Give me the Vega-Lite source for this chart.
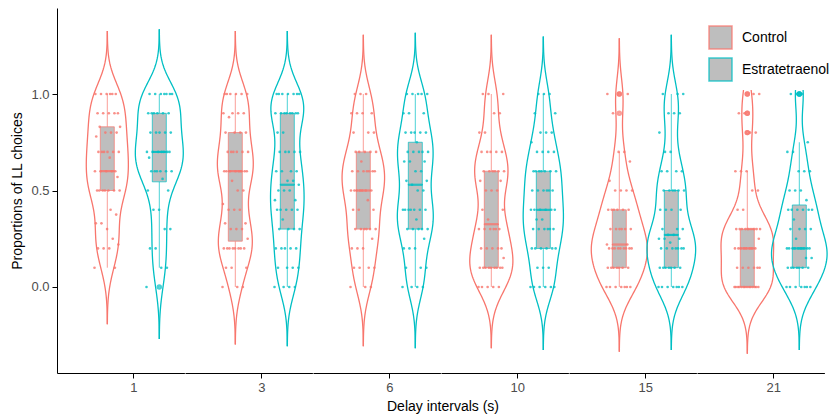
{
"$schema": "https://vega.github.io/schema/vega-lite/v6.json",
"background": "white",
"padding": {"left": 10, "top": 8, "right": 0, "bottom": 0},
"bounds": "flush",
"config": {
  "view": {"stroke": null},
  "font": "Liberation Sans",
  "axis": {"grid": false, "domainColor": "black", "tickColor": "black", "domainWidth": 1, "tickWidth": 1},
  "axisY": {"tickSize": 5, "labelPadding": 3, "labelFontSize": 13, "labelColor": "#4d4d4d", "titleFontSize": 14, "titleFontWeight": "normal", "titleColor": "black", "titlePadding": 6},
  "legend": {"symbolFillColor": "#bebebe"}
},
"data": {"values": [
{"d":1,"g":"Control","v":0.1,"i":0},{"d":1,"g":"Control","v":0.1,"i":1},{"d":1,"g":"Control","v":0.2,"i":2},{"d":1,"g":"Control","v":0.2,"i":3},{"d":1,"g":"Control","v":0.2,"i":4},{"d":1,"g":"Control","v":0.22,"i":5},{"d":1,"g":"Control","v":0.25,"i":6},{"d":1,"g":"Control","v":0.3,"i":7},{"d":1,"g":"Control","v":0.33,"i":8},{"d":1,"g":"Control","v":0.33,"i":9},{"d":1,"g":"Control","v":0.375,"i":10},{"d":1,"g":"Control","v":0.4,"i":11},{"d":1,"g":"Control","v":0.5,"i":12},{"d":1,"g":"Control","v":0.5,"i":13},{"d":1,"g":"Control","v":0.5,"i":14},{"d":1,"g":"Control","v":0.5,"i":15},{"d":1,"g":"Control","v":0.5,"i":16},{"d":1,"g":"Control","v":0.5,"i":17},{"d":1,"g":"Control","v":0.5,"i":18},{"d":1,"g":"Control","v":0.57,"i":19},{"d":1,"g":"Control","v":0.6,"i":20},{"d":1,"g":"Control","v":0.6,"i":21},{"d":1,"g":"Control","v":0.6,"i":22},{"d":1,"g":"Control","v":0.6,"i":23},{"d":1,"g":"Control","v":0.6,"i":24},{"d":1,"g":"Control","v":0.67,"i":25},{"d":1,"g":"Control","v":0.7,"i":26},{"d":1,"g":"Control","v":0.7,"i":27},{"d":1,"g":"Control","v":0.7,"i":28},{"d":1,"g":"Control","v":0.7,"i":29},{"d":1,"g":"Control","v":0.7,"i":30},{"d":1,"g":"Control","v":0.7,"i":31},{"d":1,"g":"Control","v":0.78,"i":32},{"d":1,"g":"Control","v":0.8,"i":33},{"d":1,"g":"Control","v":0.8,"i":34},{"d":1,"g":"Control","v":0.8,"i":35},{"d":1,"g":"Control","v":0.83,"i":36},{"d":1,"g":"Control","v":0.83,"i":37},{"d":1,"g":"Control","v":0.9,"i":38},{"d":1,"g":"Control","v":0.9,"i":39},{"d":1,"g":"Control","v":0.9,"i":40},{"d":1,"g":"Control","v":0.9,"i":41},{"d":1,"g":"Control","v":0.9,"i":42},{"d":1,"g":"Control","v":1,"i":43},{"d":1,"g":"Control","v":1,"i":44},{"d":1,"g":"Control","v":1,"i":45},{"d":1,"g":"Control","v":1,"i":46},{"d":1,"g":"Control","v":1,"i":47},{"d":1,"g":"Control","v":1,"i":48},
{"d":1,"g":"Estratetraenol","v":0,"i":0},{"d":1,"g":"Estratetraenol","v":0.1,"i":1},{"d":1,"g":"Estratetraenol","v":0.1,"i":2},{"d":1,"g":"Estratetraenol","v":0.2,"i":3},{"d":1,"g":"Estratetraenol","v":0.2,"i":4},{"d":1,"g":"Estratetraenol","v":0.3,"i":5},{"d":1,"g":"Estratetraenol","v":0.3,"i":6},{"d":1,"g":"Estratetraenol","v":0.4,"i":7},{"d":1,"g":"Estratetraenol","v":0.4,"i":8},{"d":1,"g":"Estratetraenol","v":0.5,"i":9},{"d":1,"g":"Estratetraenol","v":0.5,"i":10},{"d":1,"g":"Estratetraenol","v":0.56,"i":11},{"d":1,"g":"Estratetraenol","v":0.6,"i":12},{"d":1,"g":"Estratetraenol","v":0.6,"i":13},{"d":1,"g":"Estratetraenol","v":0.6,"i":14},{"d":1,"g":"Estratetraenol","v":0.6,"i":15},{"d":1,"g":"Estratetraenol","v":0.6,"i":16},{"d":1,"g":"Estratetraenol","v":0.6,"i":17},{"d":1,"g":"Estratetraenol","v":0.67,"i":18},{"d":1,"g":"Estratetraenol","v":0.7,"i":19},{"d":1,"g":"Estratetraenol","v":0.7,"i":20},{"d":1,"g":"Estratetraenol","v":0.7,"i":21},{"d":1,"g":"Estratetraenol","v":0.7,"i":22},{"d":1,"g":"Estratetraenol","v":0.7,"i":23},{"d":1,"g":"Estratetraenol","v":0.7,"i":24},{"d":1,"g":"Estratetraenol","v":0.7,"i":25},{"d":1,"g":"Estratetraenol","v":0.8,"i":26},{"d":1,"g":"Estratetraenol","v":0.8,"i":27},{"d":1,"g":"Estratetraenol","v":0.8,"i":28},{"d":1,"g":"Estratetraenol","v":0.8,"i":29},{"d":1,"g":"Estratetraenol","v":0.8,"i":30},{"d":1,"g":"Estratetraenol","v":0.9,"i":31},{"d":1,"g":"Estratetraenol","v":0.9,"i":32},{"d":1,"g":"Estratetraenol","v":0.9,"i":33},{"d":1,"g":"Estratetraenol","v":0.9,"i":34},{"d":1,"g":"Estratetraenol","v":0.9,"i":35},{"d":1,"g":"Estratetraenol","v":0.9,"i":36},{"d":1,"g":"Estratetraenol","v":1,"i":37},{"d":1,"g":"Estratetraenol","v":1,"i":38},{"d":1,"g":"Estratetraenol","v":1,"i":39},{"d":1,"g":"Estratetraenol","v":1,"i":40},{"d":1,"g":"Estratetraenol","v":1,"i":41},{"d":1,"g":"Estratetraenol","v":1,"i":42},{"d":1,"g":"Estratetraenol","v":1,"i":43},
{"d":3,"g":"Control","v":0,"i":0},{"d":3,"g":"Control","v":0,"i":1},{"d":3,"g":"Control","v":0,"i":2},{"d":3,"g":"Control","v":0.1,"i":3},{"d":3,"g":"Control","v":0.1,"i":4},{"d":3,"g":"Control","v":0.1,"i":5},{"d":3,"g":"Control","v":0.2,"i":6},{"d":3,"g":"Control","v":0.2,"i":7},{"d":3,"g":"Control","v":0.2,"i":8},{"d":3,"g":"Control","v":0.2,"i":9},{"d":3,"g":"Control","v":0.2,"i":10},{"d":3,"g":"Control","v":0.2,"i":11},{"d":3,"g":"Control","v":0.2,"i":12},{"d":3,"g":"Control","v":0.2,"i":13},{"d":3,"g":"Control","v":0.25,"i":14},{"d":3,"g":"Control","v":0.3,"i":15},{"d":3,"g":"Control","v":0.3,"i":16},{"d":3,"g":"Control","v":0.3,"i":17},{"d":3,"g":"Control","v":0.33,"i":18},{"d":3,"g":"Control","v":0.33,"i":19},{"d":3,"g":"Control","v":0.4,"i":20},{"d":3,"g":"Control","v":0.4,"i":21},{"d":3,"g":"Control","v":0.4,"i":22},{"d":3,"g":"Control","v":0.43,"i":23},{"d":3,"g":"Control","v":0.5,"i":24},{"d":3,"g":"Control","v":0.5,"i":25},{"d":3,"g":"Control","v":0.55,"i":26},{"d":3,"g":"Control","v":0.6,"i":27},{"d":3,"g":"Control","v":0.6,"i":28},{"d":3,"g":"Control","v":0.6,"i":29},{"d":3,"g":"Control","v":0.6,"i":30},{"d":3,"g":"Control","v":0.6,"i":31},{"d":3,"g":"Control","v":0.6,"i":32},{"d":3,"g":"Control","v":0.6,"i":33},{"d":3,"g":"Control","v":0.6,"i":34},{"d":3,"g":"Control","v":0.7,"i":35},{"d":3,"g":"Control","v":0.7,"i":36},{"d":3,"g":"Control","v":0.7,"i":37},{"d":3,"g":"Control","v":0.7,"i":38},{"d":3,"g":"Control","v":0.7,"i":39},{"d":3,"g":"Control","v":0.7,"i":40},{"d":3,"g":"Control","v":0.8,"i":41},{"d":3,"g":"Control","v":0.8,"i":42},{"d":3,"g":"Control","v":0.8,"i":43},{"d":3,"g":"Control","v":0.8,"i":44},{"d":3,"g":"Control","v":0.88,"i":45},{"d":3,"g":"Control","v":0.9,"i":46},{"d":3,"g":"Control","v":0.9,"i":47},{"d":3,"g":"Control","v":0.9,"i":48},{"d":3,"g":"Control","v":0.9,"i":49},{"d":3,"g":"Control","v":1,"i":50},{"d":3,"g":"Control","v":1,"i":51},{"d":3,"g":"Control","v":1,"i":52},{"d":3,"g":"Control","v":1,"i":53},{"d":3,"g":"Control","v":1,"i":54},{"d":3,"g":"Control","v":1,"i":55},
{"d":3,"g":"Estratetraenol","v":0,"i":0},{"d":3,"g":"Estratetraenol","v":0,"i":1},{"d":3,"g":"Estratetraenol","v":0,"i":2},{"d":3,"g":"Estratetraenol","v":0,"i":3},{"d":3,"g":"Estratetraenol","v":0.1,"i":4},{"d":3,"g":"Estratetraenol","v":0.1,"i":5},{"d":3,"g":"Estratetraenol","v":0.1,"i":6},{"d":3,"g":"Estratetraenol","v":0.1,"i":7},{"d":3,"g":"Estratetraenol","v":0.2,"i":8},{"d":3,"g":"Estratetraenol","v":0.2,"i":9},{"d":3,"g":"Estratetraenol","v":0.2,"i":10},{"d":3,"g":"Estratetraenol","v":0.2,"i":11},{"d":3,"g":"Estratetraenol","v":0.2,"i":12},{"d":3,"g":"Estratetraenol","v":0.3,"i":13},{"d":3,"g":"Estratetraenol","v":0.3,"i":14},{"d":3,"g":"Estratetraenol","v":0.3,"i":15},{"d":3,"g":"Estratetraenol","v":0.3,"i":16},{"d":3,"g":"Estratetraenol","v":0.35,"i":17},{"d":3,"g":"Estratetraenol","v":0.4,"i":18},{"d":3,"g":"Estratetraenol","v":0.4,"i":19},{"d":3,"g":"Estratetraenol","v":0.4,"i":20},{"d":3,"g":"Estratetraenol","v":0.4,"i":21},{"d":3,"g":"Estratetraenol","v":0.4,"i":22},{"d":3,"g":"Estratetraenol","v":0.45,"i":23},{"d":3,"g":"Estratetraenol","v":0.45,"i":24},{"d":3,"g":"Estratetraenol","v":0.5,"i":25},{"d":3,"g":"Estratetraenol","v":0.5,"i":26},{"d":3,"g":"Estratetraenol","v":0.5,"i":27},{"d":3,"g":"Estratetraenol","v":0.53,"i":28},{"d":3,"g":"Estratetraenol","v":0.55,"i":29},{"d":3,"g":"Estratetraenol","v":0.55,"i":30},{"d":3,"g":"Estratetraenol","v":0.6,"i":31},{"d":3,"g":"Estratetraenol","v":0.6,"i":32},{"d":3,"g":"Estratetraenol","v":0.6,"i":33},{"d":3,"g":"Estratetraenol","v":0.6,"i":34},{"d":3,"g":"Estratetraenol","v":0.7,"i":35},{"d":3,"g":"Estratetraenol","v":0.7,"i":36},{"d":3,"g":"Estratetraenol","v":0.7,"i":37},{"d":3,"g":"Estratetraenol","v":0.7,"i":38},{"d":3,"g":"Estratetraenol","v":0.7,"i":39},{"d":3,"g":"Estratetraenol","v":0.8,"i":40},{"d":3,"g":"Estratetraenol","v":0.8,"i":41},{"d":3,"g":"Estratetraenol","v":0.9,"i":42},{"d":3,"g":"Estratetraenol","v":0.9,"i":43},{"d":3,"g":"Estratetraenol","v":0.9,"i":44},{"d":3,"g":"Estratetraenol","v":0.9,"i":45},{"d":3,"g":"Estratetraenol","v":0.9,"i":46},{"d":3,"g":"Estratetraenol","v":0.9,"i":47},{"d":3,"g":"Estratetraenol","v":0.9,"i":48},{"d":3,"g":"Estratetraenol","v":0.9,"i":49},{"d":3,"g":"Estratetraenol","v":1,"i":50},{"d":3,"g":"Estratetraenol","v":1,"i":51},{"d":3,"g":"Estratetraenol","v":1,"i":52},{"d":3,"g":"Estratetraenol","v":1,"i":53},{"d":3,"g":"Estratetraenol","v":1,"i":54},{"d":3,"g":"Estratetraenol","v":1,"i":55},{"d":3,"g":"Estratetraenol","v":1,"i":56},
{"d":6,"g":"Control","v":0,"i":0},{"d":6,"g":"Control","v":0,"i":1},{"d":6,"g":"Control","v":0,"i":2},{"d":6,"g":"Control","v":0.1,"i":3},{"d":6,"g":"Control","v":0.1,"i":4},{"d":6,"g":"Control","v":0.1,"i":5},{"d":6,"g":"Control","v":0.1,"i":6},{"d":6,"g":"Control","v":0.2,"i":7},{"d":6,"g":"Control","v":0.2,"i":8},{"d":6,"g":"Control","v":0.2,"i":9},{"d":6,"g":"Control","v":0.25,"i":10},{"d":6,"g":"Control","v":0.3,"i":11},{"d":6,"g":"Control","v":0.3,"i":12},{"d":6,"g":"Control","v":0.3,"i":13},{"d":6,"g":"Control","v":0.3,"i":14},{"d":6,"g":"Control","v":0.3,"i":15},{"d":6,"g":"Control","v":0.3,"i":16},{"d":6,"g":"Control","v":0.4,"i":17},{"d":6,"g":"Control","v":0.4,"i":18},{"d":6,"g":"Control","v":0.4,"i":19},{"d":6,"g":"Control","v":0.45,"i":20},{"d":6,"g":"Control","v":0.5,"i":21},{"d":6,"g":"Control","v":0.5,"i":22},{"d":6,"g":"Control","v":0.5,"i":23},{"d":6,"g":"Control","v":0.5,"i":24},{"d":6,"g":"Control","v":0.5,"i":25},{"d":6,"g":"Control","v":0.5,"i":26},{"d":6,"g":"Control","v":0.5,"i":27},{"d":6,"g":"Control","v":0.6,"i":28},{"d":6,"g":"Control","v":0.6,"i":29},{"d":6,"g":"Control","v":0.6,"i":30},{"d":6,"g":"Control","v":0.6,"i":31},{"d":6,"g":"Control","v":0.6,"i":32},{"d":6,"g":"Control","v":0.6,"i":33},{"d":6,"g":"Control","v":0.6,"i":34},{"d":6,"g":"Control","v":0.65,"i":35},{"d":6,"g":"Control","v":0.7,"i":36},{"d":6,"g":"Control","v":0.7,"i":37},{"d":6,"g":"Control","v":0.7,"i":38},{"d":6,"g":"Control","v":0.7,"i":39},{"d":6,"g":"Control","v":0.7,"i":40},{"d":6,"g":"Control","v":0.8,"i":41},{"d":6,"g":"Control","v":0.8,"i":42},{"d":6,"g":"Control","v":0.8,"i":43},{"d":6,"g":"Control","v":0.9,"i":44},{"d":6,"g":"Control","v":0.9,"i":45},{"d":6,"g":"Control","v":0.9,"i":46},{"d":6,"g":"Control","v":0.9,"i":47},{"d":6,"g":"Control","v":1,"i":48},{"d":6,"g":"Control","v":1,"i":49},{"d":6,"g":"Control","v":1,"i":50},
{"d":6,"g":"Estratetraenol","v":0,"i":0},{"d":6,"g":"Estratetraenol","v":0,"i":1},{"d":6,"g":"Estratetraenol","v":0,"i":2},{"d":6,"g":"Estratetraenol","v":0,"i":3},{"d":6,"g":"Estratetraenol","v":0.1,"i":4},{"d":6,"g":"Estratetraenol","v":0.1,"i":5},{"d":6,"g":"Estratetraenol","v":0.1,"i":6},{"d":6,"g":"Estratetraenol","v":0.2,"i":7},{"d":6,"g":"Estratetraenol","v":0.2,"i":8},{"d":6,"g":"Estratetraenol","v":0.2,"i":9},{"d":6,"g":"Estratetraenol","v":0.25,"i":10},{"d":6,"g":"Estratetraenol","v":0.3,"i":11},{"d":6,"g":"Estratetraenol","v":0.3,"i":12},{"d":6,"g":"Estratetraenol","v":0.3,"i":13},{"d":6,"g":"Estratetraenol","v":0.3,"i":14},{"d":6,"g":"Estratetraenol","v":0.3,"i":15},{"d":6,"g":"Estratetraenol","v":0.35,"i":16},{"d":6,"g":"Estratetraenol","v":0.4,"i":17},{"d":6,"g":"Estratetraenol","v":0.4,"i":18},{"d":6,"g":"Estratetraenol","v":0.4,"i":19},{"d":6,"g":"Estratetraenol","v":0.4,"i":20},{"d":6,"g":"Estratetraenol","v":0.4,"i":21},{"d":6,"g":"Estratetraenol","v":0.4,"i":22},{"d":6,"g":"Estratetraenol","v":0.4,"i":23},{"d":6,"g":"Estratetraenol","v":0.5,"i":24},{"d":6,"g":"Estratetraenol","v":0.5,"i":25},{"d":6,"g":"Estratetraenol","v":0.53,"i":26},{"d":6,"g":"Estratetraenol","v":0.55,"i":27},{"d":6,"g":"Estratetraenol","v":0.55,"i":28},{"d":6,"g":"Estratetraenol","v":0.6,"i":29},{"d":6,"g":"Estratetraenol","v":0.6,"i":30},{"d":6,"g":"Estratetraenol","v":0.65,"i":31},{"d":6,"g":"Estratetraenol","v":0.65,"i":32},{"d":6,"g":"Estratetraenol","v":0.65,"i":33},{"d":6,"g":"Estratetraenol","v":0.7,"i":34},{"d":6,"g":"Estratetraenol","v":0.7,"i":35},{"d":6,"g":"Estratetraenol","v":0.7,"i":36},{"d":6,"g":"Estratetraenol","v":0.7,"i":37},{"d":6,"g":"Estratetraenol","v":0.7,"i":38},{"d":6,"g":"Estratetraenol","v":0.75,"i":39},{"d":6,"g":"Estratetraenol","v":0.8,"i":40},{"d":6,"g":"Estratetraenol","v":0.8,"i":41},{"d":6,"g":"Estratetraenol","v":0.8,"i":42},{"d":6,"g":"Estratetraenol","v":0.8,"i":43},{"d":6,"g":"Estratetraenol","v":0.8,"i":44},{"d":6,"g":"Estratetraenol","v":0.9,"i":45},{"d":6,"g":"Estratetraenol","v":0.9,"i":46},{"d":6,"g":"Estratetraenol","v":0.9,"i":47},{"d":6,"g":"Estratetraenol","v":1,"i":48},{"d":6,"g":"Estratetraenol","v":1,"i":49},{"d":6,"g":"Estratetraenol","v":1,"i":50},{"d":6,"g":"Estratetraenol","v":1,"i":51},{"d":6,"g":"Estratetraenol","v":1,"i":52},
{"d":10,"g":"Control","v":0,"i":0},{"d":10,"g":"Control","v":0,"i":1},{"d":10,"g":"Control","v":0,"i":2},{"d":10,"g":"Control","v":0,"i":3},{"d":10,"g":"Control","v":0,"i":4},{"d":10,"g":"Control","v":0.1,"i":5},{"d":10,"g":"Control","v":0.1,"i":6},{"d":10,"g":"Control","v":0.1,"i":7},{"d":10,"g":"Control","v":0.1,"i":8},{"d":10,"g":"Control","v":0.1,"i":9},{"d":10,"g":"Control","v":0.1,"i":10},{"d":10,"g":"Control","v":0.1,"i":11},{"d":10,"g":"Control","v":0.1,"i":12},{"d":10,"g":"Control","v":0.1,"i":13},{"d":10,"g":"Control","v":0.15,"i":14},{"d":10,"g":"Control","v":0.2,"i":15},{"d":10,"g":"Control","v":0.2,"i":16},{"d":10,"g":"Control","v":0.2,"i":17},{"d":10,"g":"Control","v":0.2,"i":18},{"d":10,"g":"Control","v":0.2,"i":19},{"d":10,"g":"Control","v":0.3,"i":20},{"d":10,"g":"Control","v":0.3,"i":21},{"d":10,"g":"Control","v":0.3,"i":22},{"d":10,"g":"Control","v":0.3,"i":23},{"d":10,"g":"Control","v":0.3,"i":24},{"d":10,"g":"Control","v":0.3,"i":25},{"d":10,"g":"Control","v":0.35,"i":26},{"d":10,"g":"Control","v":0.4,"i":27},{"d":10,"g":"Control","v":0.4,"i":28},{"d":10,"g":"Control","v":0.5,"i":29},{"d":10,"g":"Control","v":0.5,"i":30},{"d":10,"g":"Control","v":0.5,"i":31},{"d":10,"g":"Control","v":0.55,"i":32},{"d":10,"g":"Control","v":0.55,"i":33},{"d":10,"g":"Control","v":0.6,"i":34},{"d":10,"g":"Control","v":0.6,"i":35},{"d":10,"g":"Control","v":0.6,"i":36},{"d":10,"g":"Control","v":0.6,"i":37},{"d":10,"g":"Control","v":0.6,"i":38},{"d":10,"g":"Control","v":0.6,"i":39},{"d":10,"g":"Control","v":0.7,"i":40},{"d":10,"g":"Control","v":0.7,"i":41},{"d":10,"g":"Control","v":0.7,"i":42},{"d":10,"g":"Control","v":0.7,"i":43},{"d":10,"g":"Control","v":0.7,"i":44},{"d":10,"g":"Control","v":0.8,"i":45},{"d":10,"g":"Control","v":0.8,"i":46},{"d":10,"g":"Control","v":0.9,"i":47},{"d":10,"g":"Control","v":0.9,"i":48},{"d":10,"g":"Control","v":1,"i":49},{"d":10,"g":"Control","v":1,"i":50},{"d":10,"g":"Control","v":1,"i":51},
{"d":10,"g":"Estratetraenol","v":0,"i":0},{"d":10,"g":"Estratetraenol","v":0,"i":1},{"d":10,"g":"Estratetraenol","v":0,"i":2},{"d":10,"g":"Estratetraenol","v":0,"i":3},{"d":10,"g":"Estratetraenol","v":0,"i":4},{"d":10,"g":"Estratetraenol","v":0,"i":5},{"d":10,"g":"Estratetraenol","v":0.1,"i":6},{"d":10,"g":"Estratetraenol","v":0.1,"i":7},{"d":10,"g":"Estratetraenol","v":0.1,"i":8},{"d":10,"g":"Estratetraenol","v":0.2,"i":9},{"d":10,"g":"Estratetraenol","v":0.2,"i":10},{"d":10,"g":"Estratetraenol","v":0.2,"i":11},{"d":10,"g":"Estratetraenol","v":0.2,"i":12},{"d":10,"g":"Estratetraenol","v":0.2,"i":13},{"d":10,"g":"Estratetraenol","v":0.2,"i":14},{"d":10,"g":"Estratetraenol","v":0.3,"i":15},{"d":10,"g":"Estratetraenol","v":0.3,"i":16},{"d":10,"g":"Estratetraenol","v":0.3,"i":17},{"d":10,"g":"Estratetraenol","v":0.3,"i":18},{"d":10,"g":"Estratetraenol","v":0.3,"i":19},{"d":10,"g":"Estratetraenol","v":0.3,"i":20},{"d":10,"g":"Estratetraenol","v":0.35,"i":21},{"d":10,"g":"Estratetraenol","v":0.35,"i":22},{"d":10,"g":"Estratetraenol","v":0.4,"i":23},{"d":10,"g":"Estratetraenol","v":0.4,"i":24},{"d":10,"g":"Estratetraenol","v":0.4,"i":25},{"d":10,"g":"Estratetraenol","v":0.4,"i":26},{"d":10,"g":"Estratetraenol","v":0.4,"i":27},{"d":10,"g":"Estratetraenol","v":0.4,"i":28},{"d":10,"g":"Estratetraenol","v":0.5,"i":29},{"d":10,"g":"Estratetraenol","v":0.5,"i":30},{"d":10,"g":"Estratetraenol","v":0.5,"i":31},{"d":10,"g":"Estratetraenol","v":0.5,"i":32},{"d":10,"g":"Estratetraenol","v":0.5,"i":33},{"d":10,"g":"Estratetraenol","v":0.5,"i":34},{"d":10,"g":"Estratetraenol","v":0.6,"i":35},{"d":10,"g":"Estratetraenol","v":0.6,"i":36},{"d":10,"g":"Estratetraenol","v":0.6,"i":37},{"d":10,"g":"Estratetraenol","v":0.6,"i":38},{"d":10,"g":"Estratetraenol","v":0.6,"i":39},{"d":10,"g":"Estratetraenol","v":0.6,"i":40},{"d":10,"g":"Estratetraenol","v":0.6,"i":41},{"d":10,"g":"Estratetraenol","v":0.7,"i":42},{"d":10,"g":"Estratetraenol","v":0.7,"i":43},{"d":10,"g":"Estratetraenol","v":0.7,"i":44},{"d":10,"g":"Estratetraenol","v":0.7,"i":45},{"d":10,"g":"Estratetraenol","v":0.75,"i":46},{"d":10,"g":"Estratetraenol","v":0.8,"i":47},{"d":10,"g":"Estratetraenol","v":0.8,"i":48},{"d":10,"g":"Estratetraenol","v":0.8,"i":49},{"d":10,"g":"Estratetraenol","v":0.9,"i":50},{"d":10,"g":"Estratetraenol","v":0.9,"i":51},{"d":10,"g":"Estratetraenol","v":1,"i":52},{"d":10,"g":"Estratetraenol","v":1,"i":53},{"d":10,"g":"Estratetraenol","v":1,"i":54},
{"d":15,"g":"Control","v":0,"i":0},{"d":15,"g":"Control","v":0,"i":1},{"d":15,"g":"Control","v":0,"i":2},{"d":15,"g":"Control","v":0,"i":3},{"d":15,"g":"Control","v":0,"i":4},{"d":15,"g":"Control","v":0,"i":5},{"d":15,"g":"Control","v":0,"i":6},{"d":15,"g":"Control","v":0.1,"i":7},{"d":15,"g":"Control","v":0.1,"i":8},{"d":15,"g":"Control","v":0.1,"i":9},{"d":15,"g":"Control","v":0.1,"i":10},{"d":15,"g":"Control","v":0.1,"i":11},{"d":15,"g":"Control","v":0.1,"i":12},{"d":15,"g":"Control","v":0.1,"i":13},{"d":15,"g":"Control","v":0.2,"i":14},{"d":15,"g":"Control","v":0.2,"i":15},{"d":15,"g":"Control","v":0.2,"i":16},{"d":15,"g":"Control","v":0.2,"i":17},{"d":15,"g":"Control","v":0.2,"i":18},{"d":15,"g":"Control","v":0.2,"i":19},{"d":15,"g":"Control","v":0.2,"i":20},{"d":15,"g":"Control","v":0.2,"i":21},{"d":15,"g":"Control","v":0.2,"i":22},{"d":15,"g":"Control","v":0.22,"i":23},{"d":15,"g":"Control","v":0.22,"i":24},{"d":15,"g":"Control","v":0.3,"i":25},{"d":15,"g":"Control","v":0.3,"i":26},{"d":15,"g":"Control","v":0.3,"i":27},{"d":15,"g":"Control","v":0.3,"i":28},{"d":15,"g":"Control","v":0.3,"i":29},{"d":15,"g":"Control","v":0.3,"i":30},{"d":15,"g":"Control","v":0.4,"i":31},{"d":15,"g":"Control","v":0.4,"i":32},{"d":15,"g":"Control","v":0.4,"i":33},{"d":15,"g":"Control","v":0.4,"i":34},{"d":15,"g":"Control","v":0.4,"i":35},{"d":15,"g":"Control","v":0.4,"i":36},{"d":15,"g":"Control","v":0.5,"i":37},{"d":15,"g":"Control","v":0.5,"i":38},{"d":15,"g":"Control","v":0.5,"i":39},{"d":15,"g":"Control","v":0.5,"i":40},{"d":15,"g":"Control","v":0.55,"i":41},{"d":15,"g":"Control","v":0.65,"i":42},{"d":15,"g":"Control","v":0.7,"i":43},{"d":15,"g":"Control","v":0.7,"i":44},{"d":15,"g":"Control","v":0.9,"i":45},{"d":15,"g":"Control","v":1,"i":46},{"d":15,"g":"Control","v":1,"i":47},
{"d":15,"g":"Estratetraenol","v":0,"i":0},{"d":15,"g":"Estratetraenol","v":0,"i":1},{"d":15,"g":"Estratetraenol","v":0,"i":2},{"d":15,"g":"Estratetraenol","v":0,"i":3},{"d":15,"g":"Estratetraenol","v":0,"i":4},{"d":15,"g":"Estratetraenol","v":0,"i":5},{"d":15,"g":"Estratetraenol","v":0,"i":6},{"d":15,"g":"Estratetraenol","v":0.1,"i":7},{"d":15,"g":"Estratetraenol","v":0.1,"i":8},{"d":15,"g":"Estratetraenol","v":0.1,"i":9},{"d":15,"g":"Estratetraenol","v":0.1,"i":10},{"d":15,"g":"Estratetraenol","v":0.1,"i":11},{"d":15,"g":"Estratetraenol","v":0.1,"i":12},{"d":15,"g":"Estratetraenol","v":0.1,"i":13},{"d":15,"g":"Estratetraenol","v":0.2,"i":14},{"d":15,"g":"Estratetraenol","v":0.2,"i":15},{"d":15,"g":"Estratetraenol","v":0.2,"i":16},{"d":15,"g":"Estratetraenol","v":0.2,"i":17},{"d":15,"g":"Estratetraenol","v":0.2,"i":18},{"d":15,"g":"Estratetraenol","v":0.2,"i":19},{"d":15,"g":"Estratetraenol","v":0.2,"i":20},{"d":15,"g":"Estratetraenol","v":0.23,"i":21},{"d":15,"g":"Estratetraenol","v":0.25,"i":22},{"d":15,"g":"Estratetraenol","v":0.25,"i":23},{"d":15,"g":"Estratetraenol","v":0.25,"i":24},{"d":15,"g":"Estratetraenol","v":0.27,"i":25},{"d":15,"g":"Estratetraenol","v":0.27,"i":26},{"d":15,"g":"Estratetraenol","v":0.3,"i":27},{"d":15,"g":"Estratetraenol","v":0.3,"i":28},{"d":15,"g":"Estratetraenol","v":0.3,"i":29},{"d":15,"g":"Estratetraenol","v":0.4,"i":30},{"d":15,"g":"Estratetraenol","v":0.4,"i":31},{"d":15,"g":"Estratetraenol","v":0.4,"i":32},{"d":15,"g":"Estratetraenol","v":0.4,"i":33},{"d":15,"g":"Estratetraenol","v":0.5,"i":34},{"d":15,"g":"Estratetraenol","v":0.5,"i":35},{"d":15,"g":"Estratetraenol","v":0.5,"i":36},{"d":15,"g":"Estratetraenol","v":0.5,"i":37},{"d":15,"g":"Estratetraenol","v":0.5,"i":38},{"d":15,"g":"Estratetraenol","v":0.5,"i":39},{"d":15,"g":"Estratetraenol","v":0.6,"i":40},{"d":15,"g":"Estratetraenol","v":0.6,"i":41},{"d":15,"g":"Estratetraenol","v":0.6,"i":42},{"d":15,"g":"Estratetraenol","v":0.6,"i":43},{"d":15,"g":"Estratetraenol","v":0.7,"i":44},{"d":15,"g":"Estratetraenol","v":0.7,"i":45},{"d":15,"g":"Estratetraenol","v":0.8,"i":46},{"d":15,"g":"Estratetraenol","v":0.9,"i":47},{"d":15,"g":"Estratetraenol","v":0.9,"i":48},{"d":15,"g":"Estratetraenol","v":0.9,"i":49},{"d":15,"g":"Estratetraenol","v":1,"i":50},{"d":15,"g":"Estratetraenol","v":1,"i":51},{"d":15,"g":"Estratetraenol","v":1,"i":52},
{"d":21,"g":"Control","v":0,"i":0},{"d":21,"g":"Control","v":0,"i":1},{"d":21,"g":"Control","v":0,"i":2},{"d":21,"g":"Control","v":0,"i":3},{"d":21,"g":"Control","v":0,"i":4},{"d":21,"g":"Control","v":0,"i":5},{"d":21,"g":"Control","v":0,"i":6},{"d":21,"g":"Control","v":0,"i":7},{"d":21,"g":"Control","v":0,"i":8},{"d":21,"g":"Control","v":0,"i":9},{"d":21,"g":"Control","v":0,"i":10},{"d":21,"g":"Control","v":0,"i":11},{"d":21,"g":"Control","v":0,"i":12},{"d":21,"g":"Control","v":0,"i":13},{"d":21,"g":"Control","v":0.1,"i":14},{"d":21,"g":"Control","v":0.1,"i":15},{"d":21,"g":"Control","v":0.1,"i":16},{"d":21,"g":"Control","v":0.1,"i":17},{"d":21,"g":"Control","v":0.1,"i":18},{"d":21,"g":"Control","v":0.1,"i":19},{"d":21,"g":"Control","v":0.2,"i":20},{"d":21,"g":"Control","v":0.2,"i":21},{"d":21,"g":"Control","v":0.2,"i":22},{"d":21,"g":"Control","v":0.2,"i":23},{"d":21,"g":"Control","v":0.2,"i":24},{"d":21,"g":"Control","v":0.2,"i":25},{"d":21,"g":"Control","v":0.2,"i":26},{"d":21,"g":"Control","v":0.2,"i":27},{"d":21,"g":"Control","v":0.25,"i":28},{"d":21,"g":"Control","v":0.3,"i":29},{"d":21,"g":"Control","v":0.3,"i":30},{"d":21,"g":"Control","v":0.3,"i":31},{"d":21,"g":"Control","v":0.3,"i":32},{"d":21,"g":"Control","v":0.3,"i":33},{"d":21,"g":"Control","v":0.3,"i":34},{"d":21,"g":"Control","v":0.3,"i":35},{"d":21,"g":"Control","v":0.3,"i":36},{"d":21,"g":"Control","v":0.3,"i":37},{"d":21,"g":"Control","v":0.3,"i":38},{"d":21,"g":"Control","v":0.3,"i":39},{"d":21,"g":"Control","v":0.4,"i":40},{"d":21,"g":"Control","v":0.4,"i":41},{"d":21,"g":"Control","v":0.5,"i":42},{"d":21,"g":"Control","v":0.5,"i":43},{"d":21,"g":"Control","v":0.6,"i":44},{"d":21,"g":"Control","v":0.6,"i":45},{"d":21,"g":"Control","v":0.6,"i":46},{"d":21,"g":"Control","v":0.8,"i":47},{"d":21,"g":"Control","v":0.8,"i":48},{"d":21,"g":"Control","v":0.9,"i":49},{"d":21,"g":"Control","v":0.9,"i":50},{"d":21,"g":"Control","v":1,"i":51},{"d":21,"g":"Control","v":1,"i":52},
{"d":21,"g":"Estratetraenol","v":0,"i":0},{"d":21,"g":"Estratetraenol","v":0,"i":1},{"d":21,"g":"Estratetraenol","v":0,"i":2},{"d":21,"g":"Estratetraenol","v":0,"i":3},{"d":21,"g":"Estratetraenol","v":0,"i":4},{"d":21,"g":"Estratetraenol","v":0,"i":5},{"d":21,"g":"Estratetraenol","v":0,"i":6},{"d":21,"g":"Estratetraenol","v":0.1,"i":7},{"d":21,"g":"Estratetraenol","v":0.1,"i":8},{"d":21,"g":"Estratetraenol","v":0.1,"i":9},{"d":21,"g":"Estratetraenol","v":0.1,"i":10},{"d":21,"g":"Estratetraenol","v":0.1,"i":11},{"d":21,"g":"Estratetraenol","v":0.1,"i":12},{"d":21,"g":"Estratetraenol","v":0.1,"i":13},{"d":21,"g":"Estratetraenol","v":0.15,"i":14},{"d":21,"g":"Estratetraenol","v":0.15,"i":15},{"d":21,"g":"Estratetraenol","v":0.2,"i":16},{"d":21,"g":"Estratetraenol","v":0.2,"i":17},{"d":21,"g":"Estratetraenol","v":0.2,"i":18},{"d":21,"g":"Estratetraenol","v":0.2,"i":19},{"d":21,"g":"Estratetraenol","v":0.2,"i":20},{"d":21,"g":"Estratetraenol","v":0.2,"i":21},{"d":21,"g":"Estratetraenol","v":0.2,"i":22},{"d":21,"g":"Estratetraenol","v":0.2,"i":23},{"d":21,"g":"Estratetraenol","v":0.2,"i":24},{"d":21,"g":"Estratetraenol","v":0.2,"i":25},{"d":21,"g":"Estratetraenol","v":0.25,"i":26},{"d":21,"g":"Estratetraenol","v":0.3,"i":27},{"d":21,"g":"Estratetraenol","v":0.3,"i":28},{"d":21,"g":"Estratetraenol","v":0.3,"i":29},{"d":21,"g":"Estratetraenol","v":0.3,"i":30},{"d":21,"g":"Estratetraenol","v":0.35,"i":31},{"d":21,"g":"Estratetraenol","v":0.4,"i":32},{"d":21,"g":"Estratetraenol","v":0.4,"i":33},{"d":21,"g":"Estratetraenol","v":0.4,"i":34},{"d":21,"g":"Estratetraenol","v":0.4,"i":35},{"d":21,"g":"Estratetraenol","v":0.4,"i":36},{"d":21,"g":"Estratetraenol","v":0.4,"i":37},{"d":21,"g":"Estratetraenol","v":0.45,"i":38},{"d":21,"g":"Estratetraenol","v":0.5,"i":39},{"d":21,"g":"Estratetraenol","v":0.5,"i":40},{"d":21,"g":"Estratetraenol","v":0.5,"i":41},{"d":21,"g":"Estratetraenol","v":0.6,"i":42},{"d":21,"g":"Estratetraenol","v":0.6,"i":43},{"d":21,"g":"Estratetraenol","v":0.6,"i":44},{"d":21,"g":"Estratetraenol","v":0.7,"i":45},{"d":21,"g":"Estratetraenol","v":0.7,"i":46},{"d":21,"g":"Estratetraenol","v":0.75,"i":47},{"d":21,"g":"Estratetraenol","v":1,"i":48},{"d":21,"g":"Estratetraenol","v":1,"i":49},{"d":21,"g":"Estratetraenol","v":1,"i":50}
]},
"facet": {"column": {"field": "d", "type": "ordinal", "sort": "ascending", "title": "Delay intervals (s)",
  "header": {"labels": false, "titleOrient": "bottom", "titleFontSize": 14, "titleFontWeight": "normal", "titleColor": "black", "titlePadding": 17}}},
"spacing": 0,
"resolve": {"scale": {"x": "independent"}},
"spec": {
  "width": 127.4,
  "height": 365,
  "layer": [
    {
      "transform": [{"aggregate": [{"op": "count", "as": "n"}], "groupby": ["d"]}],
      "mark": {"type": "tick", "opacity": 0},
      "encoding": {
        "x": {"field": "d", "type": "ordinal", "scale": {"type": "point", "padding": 0.5, "align": 0.599},
          "axis": {"title": null, "labelAngle": 0, "labelFontSize": 13, "labelColor": "#4d4d4d", "labelPadding": 3, "tickSize": 5, "domain": true}}
      }
    },
    {
      "transform": [
        {"filter": "datum.g === 'Control'"},
        {"density": "v", "groupby": ["d", "g"], "bandwidth": 0.1, "extent": [-0.45, 1.45], "steps": 200, "as": ["v", "density"]},
        {"filter": "datum.density > 0.002"}
      ],
      "mark": {"type": "line", "strokeWidth": 1.3},
      "encoding": {
        "y": {"field": "v", "type": "quantitative", "title": "Proportions of LL choices", "scale": {"domain": [-0.4456, 1.4456], "nice": false, "zero": false}, "axis": {"values": [0, 0.5, 1], "format": ".1f"}},
        "x": {"field": "density", "type": "quantitative", "scale": {"domain": [-3.081, 4.719], "nice": false, "zero": false}, "axis": null},
        "order": {"field": "v", "type": "quantitative"},
        "stroke": {"field": "g", "type": "nominal", "scale": {"domain": ["Control", "Estratetraenol"], "range": ["#F8766D", "#00BFC4"]},
          "legend": {"title": null, "orient": "none", "legendX": 645, "legendY": 11, "symbolType": "square", "symbolSize": 529, "symbolStrokeWidth": 1.5, "symbolFillColor": "#bebebe", "labelFontSize": 14, "labelColor": "black", "labelOffset": 9, "rowPadding": 3, "padding": 6, "fillColor": "white",
            "encode": {"symbols": {"update": {"fill": {"value": "#bebebe"}, "fillOpacity": {"value": 1}, "strokeOpacity": {"value": 0.75}}}}}}
      }
    },
    {
      "transform": [
        {"filter": "datum.g === 'Control'"},
        {"density": "v", "groupby": ["d", "g"], "bandwidth": 0.1, "extent": [-0.45, 1.45], "steps": 200, "as": ["v", "density"]},
        {"filter": "datum.density > 0.002"}
      ],
      "mark": {"type": "line", "strokeWidth": 1.3},
      "encoding": {
        "y": {"field": "v", "type": "quantitative", "title": "Proportions of LL choices", "scale": {"domain": [-0.4456, 1.4456], "nice": false, "zero": false}, "axis": {"values": [0, 0.5, 1], "format": ".1f"}},
        "x": {"field": "density", "type": "quantitative", "scale": {"domain": [-4.719, 3.081], "reverse": true, "nice": false, "zero": false}, "axis": null},
        "order": {"field": "v", "type": "quantitative"},
        "stroke": {"field": "g", "type": "nominal", "scale": {"domain": ["Control", "Estratetraenol"], "range": ["#F8766D", "#00BFC4"]},
          "legend": {"title": null, "orient": "none", "legendX": 645, "legendY": 11, "symbolType": "square", "symbolSize": 529, "symbolStrokeWidth": 1.5, "symbolFillColor": "#bebebe", "labelFontSize": 14, "labelColor": "black", "labelOffset": 9, "rowPadding": 3, "padding": 6, "fillColor": "white",
            "encode": {"symbols": {"update": {"fill": {"value": "#bebebe"}, "fillOpacity": {"value": 1}, "strokeOpacity": {"value": 0.75}}}}}}
      }
    },
    {
      "transform": [
        {"filter": "datum.g === 'Estratetraenol'"},
        {"density": "v", "groupby": ["d", "g"], "bandwidth": 0.1, "extent": [-0.45, 1.45], "steps": 200, "as": ["v", "density"]},
        {"filter": "datum.density > 0.002"}
      ],
      "mark": {"type": "line", "strokeWidth": 1.3},
      "encoding": {
        "y": {"field": "v", "type": "quantitative", "title": "Proportions of LL choices", "scale": {"domain": [-0.4456, 1.4456], "nice": false, "zero": false}, "axis": {"values": [0, 0.5, 1], "format": ".1f"}},
        "x": {"field": "density", "type": "quantitative", "scale": {"domain": [-6.2634, 1.5366], "nice": false, "zero": false}, "axis": null},
        "order": {"field": "v", "type": "quantitative"},
        "stroke": {"field": "g", "type": "nominal", "scale": {"domain": ["Control", "Estratetraenol"], "range": ["#F8766D", "#00BFC4"]},
          "legend": {"title": null, "orient": "none", "legendX": 645, "legendY": 11, "symbolType": "square", "symbolSize": 529, "symbolStrokeWidth": 1.5, "symbolFillColor": "#bebebe", "labelFontSize": 14, "labelColor": "black", "labelOffset": 9, "rowPadding": 3, "padding": 6, "fillColor": "white",
            "encode": {"symbols": {"update": {"fill": {"value": "#bebebe"}, "fillOpacity": {"value": 1}, "strokeOpacity": {"value": 0.75}}}}}}
      }
    },
    {
      "transform": [
        {"filter": "datum.g === 'Estratetraenol'"},
        {"density": "v", "groupby": ["d", "g"], "bandwidth": 0.1, "extent": [-0.45, 1.45], "steps": 200, "as": ["v", "density"]},
        {"filter": "datum.density > 0.002"}
      ],
      "mark": {"type": "line", "strokeWidth": 1.3},
      "encoding": {
        "y": {"field": "v", "type": "quantitative", "title": "Proportions of LL choices", "scale": {"domain": [-0.4456, 1.4456], "nice": false, "zero": false}, "axis": {"values": [0, 0.5, 1], "format": ".1f"}},
        "x": {"field": "density", "type": "quantitative", "scale": {"domain": [-1.5366, 6.2634], "reverse": true, "nice": false, "zero": false}, "axis": null},
        "order": {"field": "v", "type": "quantitative"},
        "stroke": {"field": "g", "type": "nominal", "scale": {"domain": ["Control", "Estratetraenol"], "range": ["#F8766D", "#00BFC4"]},
          "legend": {"title": null, "orient": "none", "legendX": 645, "legendY": 11, "symbolType": "square", "symbolSize": 529, "symbolStrokeWidth": 1.5, "symbolFillColor": "#bebebe", "labelFontSize": 14, "labelColor": "black", "labelOffset": 9, "rowPadding": 3, "padding": 6, "fillColor": "white",
            "encode": {"symbols": {"update": {"fill": {"value": "#bebebe"}, "fillOpacity": {"value": 1}, "strokeOpacity": {"value": 0.75}}}}}}
      }
    },
    {
      "mark": {"type": "boxplot", "size": 14, "extent": 1.5, "ticks": false,
        "box": {"fill": "#bebebe", "strokeWidth": 1, "strokeOpacity": 0.7},
        "median": {"fillOpacity": 0, "strokeWidth": 1},
        "rule": {"strokeWidth": 1, "strokeOpacity": 0.7},
        "outliers": {"size": 6, "strokeWidth": 3, "filled": false}},
      "encoding": {
        "x": {"field": "g", "type": "nominal", "scale": {"domain": ["Control", "Estratetraenol"], "paddingInner": 0.5, "paddingOuter": 0.475, "align": 0.755}, "axis": null},
        "y": {"field": "v", "type": "quantitative", "title": "Proportions of LL choices", "scale": {"domain": [-0.4456, 1.4456], "nice": false, "zero": false}, "axis": {"values": [0, 0.5, 1], "format": ".1f"}},
        "stroke": {"field": "g", "type": "nominal", "scale": {"domain": ["Control", "Estratetraenol"], "range": ["#F8766D", "#00BFC4"]},
          "legend": {"title": null, "orient": "none", "legendX": 645, "legendY": 11, "symbolType": "square", "symbolSize": 529, "symbolStrokeWidth": 1.5, "symbolFillColor": "#bebebe", "labelFontSize": 14, "labelColor": "black", "labelOffset": 9, "rowPadding": 3, "padding": 6, "fillColor": "white",
            "encode": {"symbols": {"update": {"fill": {"value": "#bebebe"}, "fillOpacity": {"value": 1}, "strokeOpacity": {"value": 0.75}}}}}}
      }
    },
    {
      "transform": [{"filter": "datum.g === 'Control'"}],
      "mark": {"type": "circle", "size": 7, "opacity": 0.8, "color": "#F8766D"},
      "encoding": {
        "x": {"field": "i", "type": "nominal", "scale": {"type": "point", "range": [37.3, 63.3], "domain": [0,23,46,9,32,55,18,41,4,27,50,13,36,59,22,45,8,31,54,17,40,3,26,49,12,35,58,21,44,7,30,53,16,39,2,25,48,11,34,57,20,43,6,29,52,15,38,1,24,47,10,33,56,19,42,5,28,51,14,37]}, "axis": null},
        "y": {"field": "v", "type": "quantitative", "title": "Proportions of LL choices", "scale": {"domain": [-0.4456, 1.4456], "nice": false, "zero": false}, "axis": {"values": [0, 0.5, 1], "format": ".1f"}}
      }
    },
    {
      "transform": [{"filter": "datum.g === 'Estratetraenol'"}],
      "mark": {"type": "circle", "size": 7, "opacity": 0.8, "color": "#00BFC4"},
      "encoding": {
        "x": {"field": "i", "type": "nominal", "scale": {"type": "point", "range": [89.3, 115.3], "domain": [0,23,46,9,32,55,18,41,4,27,50,13,36,59,22,45,8,31,54,17,40,3,26,49,12,35,58,21,44,7,30,53,16,39,2,25,48,11,34,57,20,43,6,29,52,15,38,1,24,47,10,33,56,19,42,5,28,51,14,37]}, "axis": null},
        "y": {"field": "v", "type": "quantitative", "title": "Proportions of LL choices", "scale": {"domain": [-0.4456, 1.4456], "nice": false, "zero": false}, "axis": {"values": [0, 0.5, 1], "format": ".1f"}}
      }
    }
  ],
  "resolve": {"scale": {"x": "independent"}}
}
}
